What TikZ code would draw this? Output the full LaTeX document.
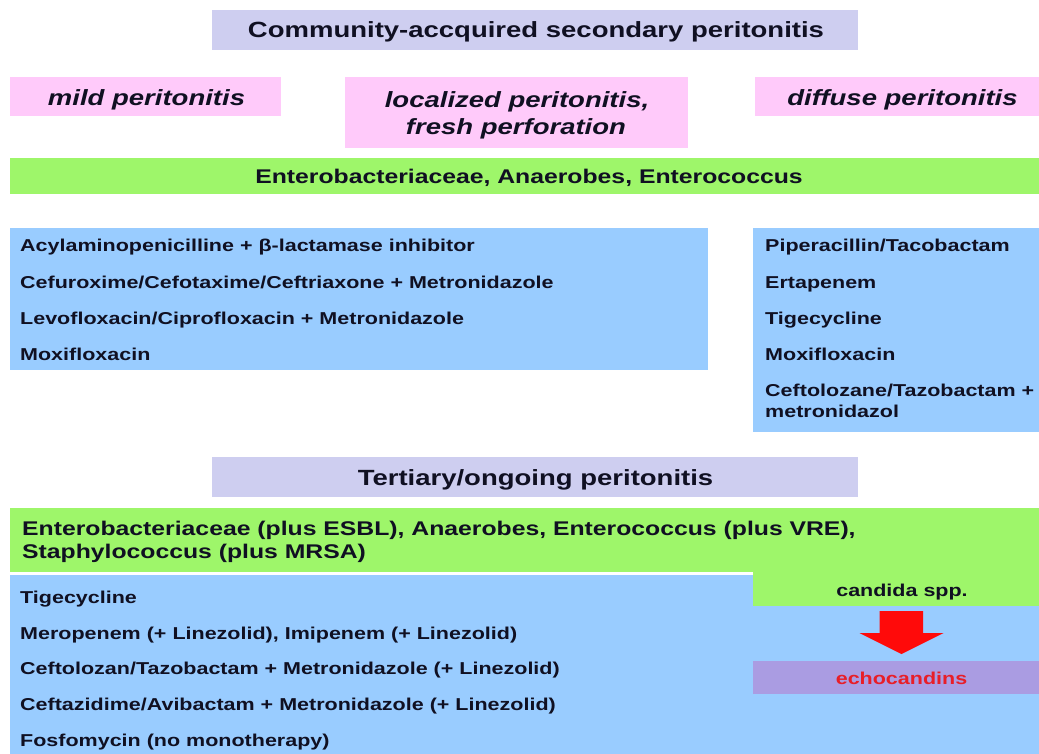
\documentclass[tikz,border=0pt]{standalone}
\usepackage{fontspec}
\setmainfont{Liberation Sans}[FakeStretch=1.25]
\usetikzlibrary{calc}
\definecolor{lav}{RGB}{206,206,240}
\definecolor{pinkbox}{RGB}{255,202,250}
\definecolor{grn}{RGB}{158,246,106}
\definecolor{blu}{RGB}{153,204,255}
\definecolor{echobox}{RGB}{170,156,226}
\definecolor{ink}{RGB}{16,16,34}
\definecolor{redtxt}{RGB}{232,30,40}
\definecolor{arrowred}{RGB}{255,10,10}
\begin{document}
\begin{tikzpicture}[x=1pt,y=-1pt,
  box/.style={inner sep=0pt, outer sep=0pt, anchor=north west, draw=none},
  head/.style={inner sep=0pt, text=ink, font=\bfseries\fontsize{22}{26}\selectfont, anchor=base},
  sub/.style={inner sep=0pt, text=ink, font=\bfseries\itshape\fontsize{22}{26}\selectfont, anchor=base},
  bug/.style={inner sep=0pt, text=ink, font=\bfseries\fontsize{19.8}{23}\selectfont},
  drug/.style={inner sep=0pt, text=ink, font=\bfseries\fontsize{17.2}{20}\selectfont, anchor=base west}]
\useasboundingbox (0,0) rectangle (1039,753);
% boxes
\node[box, fill=lav, minimum width=646, minimum height=40] (topbox) at (212,10) {};
\node[box, fill=pinkbox, minimum width=271, minimum height=39] (mildbox) at (10,77) {};
\node[box, fill=pinkbox, minimum width=343, minimum height=71] (locbox) at (345,77) {};
\node[box, fill=pinkbox, minimum width=295, minimum height=39] (diffbox) at (755,77) {};
\node[box, fill=grn, minimum width=1040, minimum height=36] (grn1) at (10,158) {};
\node[box, fill=blu, minimum width=698, minimum height=142] (bluL) at (10,228) {};
\node[box, fill=blu, minimum width=297, minimum height=204] (bluR) at (753,228) {};
\node[box, fill=lav, minimum width=646, minimum height=40] (tertbox) at (212,457) {};
\node[box, fill=blu, minimum width=1040, minimum height=185] (bluB) at (10,575) {};
\node[box, fill=grn, minimum width=1040, minimum height=64] (grn2) at (10,508) {};
\node[box, fill=grn, minimum width=297, minimum height=34] (cand) at (753,572) {};
\node[box, fill=echobox, minimum width=297, minimum height=33] (echo) at (753,661) {};
% arrow
\fill[arrowred] ($(cand.south)+(-22,5)$) -- ($(cand.south)+(21.5,5)$) -- ($(cand.south)+(21.5,27)$)
  -- ($(cand.south)+(42,27)$) -- ($(echo.north)+(0,-7)$) -- ($(cand.south)+(-42,27)$)
  -- ($(cand.south)+(-22,27)$) -- cycle;
% headings
\node[head] (toptxt) at (536,37) {Community-accquired secondary peritonitis};
\node[sub] (mildtxt) at (146.5,105) {mild peritonitis};
\node[sub] (loctxt1) at (517,107) {localized peritonitis,};
\node[sub] (loctxt2) at (516,134) {fresh perforation};
\node[sub] (difftxt) at (902.5,105) {diffuse peritonitis};
\node[bug, anchor=base] (grn1txt) at (529,183) {Enterobacteriaceae, Anaerobes, Enterococcus};
% left list
\node[drug] (l1) at (20,251) {Acylaminopenicilline + β-lactamase inhibitor};
\node[drug] (l2) at (20,288) {Cefuroxime/Cefotaxime/Ceftriaxone + Metronidazole};
\node[drug] (l3) at (20,324) {Levofloxacin/Ciprofloxacin + Metronidazole};
\node[drug] (l4) at (20,360) {Moxifloxacin};
% right list
\node[drug] (r1) at (765,251) {Piperacillin/Tacobactam};
\node[drug] (r2) at (765,288) {Ertapenem};
\node[drug] (r3) at (765,324) {Tigecycline};
\node[drug] (r4) at (765,360) {Moxifloxacin};
\node[drug] (r5) at (765,396) {Ceftolozane/Tazobactam +};
\node[drug] (r6) at (765,417) {metronidazol};
% tertiary
\node[head] (terttxt) at (535.5,485) {Tertiary/ongoing peritonitis};
\node[bug, anchor=base west] (g2a) at (22,535) {Enterobacteriaceae (plus ESBL), Anaerobes, Enterococcus (plus VRE),};
\node[bug, anchor=base west] (g2b) at (22,558) {Staphylococcus (plus MRSA)};
% bottom list
\node[drug] (b1) at (20,603) {Tigecycline};
\node[drug] (b2) at (20,639) {Meropenem (+ Linezolid), Imipenem (+ Linezolid)};
\node[drug] (b3) at (20,674) {Ceftolozan/Tazobactam + Metronidazole (+ Linezolid)};
\node[drug] (b4) at (20,710) {Ceftazidime/Avibactam + Metronidazole (+ Linezolid)};
\node[drug] (b5) at (20,746) {Fosfomycin (no monotherapy)};
% candida
\node[drug, anchor=base] (candtxt) at (902,596) {candida spp.};
\node[drug, anchor=base, text=redtxt] (echotxt) at (901.5,684) {echocandins};
\end{tikzpicture}
\end{document}
